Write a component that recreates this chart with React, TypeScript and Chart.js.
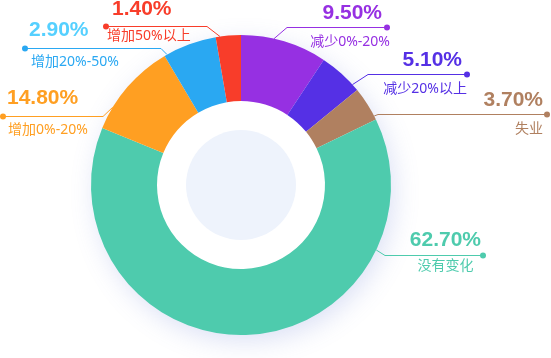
import React, { useEffect, useRef } from 'react';
import { Chart, registerables } from 'chart.js';

Chart.register(...registerables);

// ---- data ----
const categories = ['减少0%-20%', '减少20%以上', '失业', '没有变化', '增加0%-20%', '增加20%-50%', '增加50%以上'];
const percentLabels = ['9.50%', '5.10%', '3.70%', '62.70%', '14.80%', '2.90%', '1.40%'];
// slice sizes as drawn in the picture
const sliceShares = [9.3, 4.8, 3.7, 63.4, 10.3, 5.8, 2.7];

const sliceColors = ['#9630E2', '#5530E5', '#B08060', '#4ECBAD', '#FF9F22', '#2AA8F2', '#F83D2A'];
const percentColors = ['#9630E2', '#5530E5', '#B08060', '#4ECBAD', '#FF9F22', '#55D0FF', '#F83D2A'];
const subColors = ['#9630E2', '#5530E5', '#B08060', '#4ECBAD', '#FF9F22', '#2AA8F2', '#F83D2A'];

// ---- label layout (leader elbow, dot, text anchors) ----
type Lay = {
  t: number; elbow: [number, number]; dot: [number, number];
  pct: [number, number]; pctAlign: CanvasTextAlign;
  sub: [number, number]; subAlign: CanvasTextAlign;
};
const labelLayout: Lay[] = [
  { t: 0.38, elbow: [287, 27], dot: [387, 27], pct: [382, 13], pctAlign: 'right', sub: [390, 42], subAlign: 'right' },
  { t: 0.84, elbow: [368, 74], dot: [467, 74], pct: [462, 60], pctAlign: 'right', sub: [467, 89], subAlign: 'right' },
  { t: 0.89, elbow: [378, 114], dot: [547, 114], pct: [543, 100], pctAlign: 'right', sub: [543, 129], subAlign: 'right' },
  { t: 0.226, elbow: [385, 255], dot: [483, 255], pct: [481, 240], pctAlign: 'right', sub: [445.5, 266], subAlign: 'center' },
  { t: 0.24, elbow: [103, 116], dot: [3, 116], pct: [7, 98], pctAlign: 'left', sub: [8, 130.5], subAlign: 'left' },
  { t: 0.05, elbow: [161, 48], dot: [25, 48], pct: [29, 30], pctAlign: 'left', sub: [31, 62], subAlign: 'left' },
  { t: 0.17, elbow: [207, 26], dot: [106, 26], pct: [112, 9], pctAlign: 'left', sub: [107, 36], subAlign: 'left' },
];

const shadowPlugin = {
  id: 'ringShadow',
  beforeDatasetsDraw(chart: any) {
    const arc = chart.getDatasetMeta(0).data[0];
    if (!arc) return;
    const { x, y, outerRadius } = arc.getProps(['x', 'y', 'outerRadius'], true);
    const ctx = chart.ctx;
    ctx.save();
    ctx.beginPath();
    ctx.arc(x, y, outerRadius - 1, 0, Math.PI * 2);
    ctx.shadowColor = 'rgba(90,115,210,0.22)';
    ctx.shadowBlur = 26;
    ctx.shadowOffsetX = 4;
    ctx.shadowOffsetY = 7;
    ctx.fillStyle = '#ffffff';
    ctx.fill();
    ctx.restore();
  },
  afterDatasetsDraw(chart: any) {
    const arc = chart.getDatasetMeta(0).data[0];
    if (!arc) return;
    const { x, y } = arc.getProps(['x', 'y'], true);
    const ctx = chart.ctx;
    ctx.save();
    ctx.beginPath();
    ctx.arc(x, y, 55, 0, Math.PI * 2);
    ctx.fillStyle = '#EEF3FC';
    ctx.fill();
    ctx.restore();
  },
};

const labelPlugin = {
  id: 'leaderLabels',
  afterDraw(chart: any) {
    const ctx = chart.ctx;
    const meta = chart.getDatasetMeta(0);
    meta.data.forEach((el: any, i: number) => {
      const lay = labelLayout[i];
      if (!lay) return;
      const p = el.getProps(['x', 'y', 'startAngle', 'endAngle', 'outerRadius'], true);
      const a = p.startAngle + (p.endAngle - p.startAngle) * lay.t;
      const sx = p.x + Math.cos(a) * p.outerRadius;
      const sy = p.y + Math.sin(a) * p.outerRadius;
      ctx.save();
      ctx.strokeStyle = subColors[i];
      ctx.lineWidth = 1;
      ctx.beginPath();
      ctx.moveTo(sx, sy);
      ctx.lineTo(lay.elbow[0], lay.elbow[1] + 0.5);
      ctx.lineTo(lay.dot[0], lay.dot[1] + 0.5);
      ctx.stroke();
      ctx.beginPath();
      ctx.arc(lay.dot[0], lay.dot[1] + 0.5, 3, 0, Math.PI * 2);
      ctx.fillStyle = subColors[i];
      ctx.fill();

      ctx.textBaseline = 'middle';
      ctx.font = 'bold 21px "Liberation Sans", Arial, sans-serif';
      ctx.fillStyle = percentColors[i];
      ctx.textAlign = lay.pctAlign;
      ctx.fillText(percentLabels[i], lay.pct[0], lay.pct[1]);

      ctx.font = '14px "Noto Sans", "Noto Sans CJK SC", sans-serif';
      ctx.fillStyle = subColors[i];
      ctx.textAlign = lay.subAlign;
      ctx.fillText(categories[i], lay.sub[0], lay.sub[1]);
      ctx.restore();
    });
  },
};

export default function App() {
  const ref = useRef<HTMLCanvasElement>(null);
  useEffect(() => {
    if (!ref.current) return;
    const chart = new Chart(ref.current, {
      type: 'doughnut',
      data: {
        labels: categories,
        datasets: [{
          data: sliceShares,
          backgroundColor: sliceColors,
          borderWidth: 0,
        }],
      },
      options: {
        responsive: false,
        animation: false,
        cutout: '56%',
        layout: { padding: { left: 91, right: 160, top: 35, bottom: 23 } },
        plugins: { legend: { display: false }, tooltip: { enabled: false } },
      },
      plugins: [shadowPlugin, labelPlugin],
    });
    return () => chart.destroy();
  }, []);
  return (
    <div style={{ position: 'absolute', left: 0, top: 0, width: 551, height: 358, background: '#fff' }}>
      <canvas ref={ref} width={551} height={358} style={{ display: 'block', width: 551, height: 358 }} />
    </div>
  );
}
